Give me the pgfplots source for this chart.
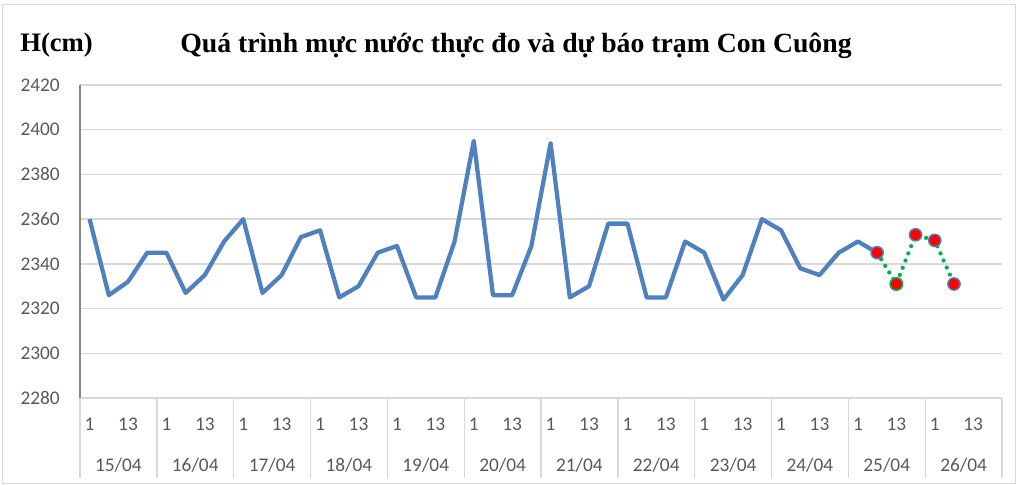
\documentclass[border=0pt]{standalone}
\usepackage{fontspec}
\setmainfont{Carlito}
\newfontfamily\titlefont{Liberation Serif}
\usepackage{pgfplots}
\usepackage{pgfplotstable}
\pgfplotsset{compat=1.18}

\definecolor{obsblue}{RGB}{79,129,189}
\definecolor{fcgreen}{RGB}{0,176,80}
\definecolor{ticktext}{RGB}{89,89,89}
\definecolor{gridgray}{RGB}{217,217,217}
\definecolor{axisgray}{RGB}{134,134,134}

% measured levels, 4 per day (1h, 7h, 13h, 19h)
\pgfplotstableread{
x y
0 2360
1 2326
2 2332
3 2345
4 2345
5 2327
6 2335
7 2350
8 2360
9 2327
10 2335
11 2352
12 2355
13 2325
14 2330
15 2345
16 2348
17 2325
18 2325
19 2350
20 2395
21 2326
22 2326
23 2348
24 2394
25 2325
26 2330
27 2358
28 2358
29 2325
30 2325
31 2350
32 2345
33 2324
34 2335
35 2360
36 2355
37 2338
38 2335
39 2345
40 2350
41 2345
}\obs

% forecast
\pgfplotstableread{
x y
41 2345
42 2331
43 2353
44 2350.5
45 2331
}\fc

\begin{document}
\begin{tikzpicture}
\path[use as bounding box] (0,0) rectangle (763.5pt,-363.75pt);
\draw[gridgray, line width=0.75pt] (2pt,-3.75pt) rectangle (761.5pt,-362.25pt);
\node[anchor=base, font=\titlefont\bfseries\fontsize{20.8}{24}\selectfont] at (387pt,-39.75pt) {Quá trình mực nước thực đo và dự báo trạm Con Cuông};
\node[anchor=base west, inner sep=0pt, font=\titlefont\bfseries\fontsize{20}{24}\selectfont] at (15pt,-38.75pt) {H(cm)};
\begin{axis}[
  at={(60pt,-298.5pt)}, anchor=south west,
  width=691.5pt, height=234.75pt, scale only axis,
  xmin=-0.5, xmax=47.5, ymin=2280, ymax=2420,
  ytick={2280,2300,...,2420},
  xtick={0,2,...,46},
  xticklabels={1,13,1,13,1,13,1,13,1,13,1,13,1,13,1,13,1,13,1,13,1,13,1,13},
  axis x line*=bottom, axis y line*=left,
  x axis line style={draw=gridgray, line width=1pt, -},
  y axis line style={draw=axisgray, line width=1pt, -},
  ymajorgrids, grid style={draw=gridgray, line width=1pt},
  major tick length=0pt,
  tick label style={font=\fontsize{14.5}{17}\selectfont, text=ticktext},
  /pgf/number format/assume math mode=true,
  /pgf/number format/set thousands separator={},
  yticklabel style={anchor=east, inner sep=0pt, xshift=-15pt},
  xticklabel style={anchor=center, inner sep=0pt, yshift=-20pt},
  extra x ticks={-0.5,3.5,...,47.5},
  extra x tick labels={},
  extra x tick style={major tick length=60pt, tick align=outside,
    tick style={draw=gridgray, line width=1pt}, grid=none},
  clip=false,
]
\addplot[color=obsblue, line width=3.2pt, line join=round, no markers] table {\obs};
\addplot[color=fcgreen, line width=3.2pt, line cap=round, dash pattern=on 0pt off 5.8pt,
  mark=*, mark size=4.6pt, mark options={solid, fill=red, draw=obsblue, line width=1.1pt}] table {\fc};
\addplot[only marks, mark=*, mark size=4.6pt, mark options={fill=red, draw=fcgreen, line width=1.1pt}]
  coordinates {(42,2331)};
\node[font=\fontsize{14.5}{17}\selectfont, text=ticktext] at (axis cs:1.5,2280) [yshift=-50.25pt] {15/04};
\node[font=\fontsize{14.5}{17}\selectfont, text=ticktext] at (axis cs:5.5,2280) [yshift=-50.25pt] {16/04};
\node[font=\fontsize{14.5}{17}\selectfont, text=ticktext] at (axis cs:9.5,2280) [yshift=-50.25pt] {17/04};
\node[font=\fontsize{14.5}{17}\selectfont, text=ticktext] at (axis cs:13.5,2280) [yshift=-50.25pt] {18/04};
\node[font=\fontsize{14.5}{17}\selectfont, text=ticktext] at (axis cs:17.5,2280) [yshift=-50.25pt] {19/04};
\node[font=\fontsize{14.5}{17}\selectfont, text=ticktext] at (axis cs:21.5,2280) [yshift=-50.25pt] {20/04};
\node[font=\fontsize{14.5}{17}\selectfont, text=ticktext] at (axis cs:25.5,2280) [yshift=-50.25pt] {21/04};
\node[font=\fontsize{14.5}{17}\selectfont, text=ticktext] at (axis cs:29.5,2280) [yshift=-50.25pt] {22/04};
\node[font=\fontsize{14.5}{17}\selectfont, text=ticktext] at (axis cs:33.5,2280) [yshift=-50.25pt] {23/04};
\node[font=\fontsize{14.5}{17}\selectfont, text=ticktext] at (axis cs:37.5,2280) [yshift=-50.25pt] {24/04};
\node[font=\fontsize{14.5}{17}\selectfont, text=ticktext] at (axis cs:41.5,2280) [yshift=-50.25pt] {25/04};
\node[font=\fontsize{14.5}{17}\selectfont, text=ticktext] at (axis cs:45.5,2280) [yshift=-50.25pt] {26/04};
\end{axis}
\end{tikzpicture}
\end{document}
